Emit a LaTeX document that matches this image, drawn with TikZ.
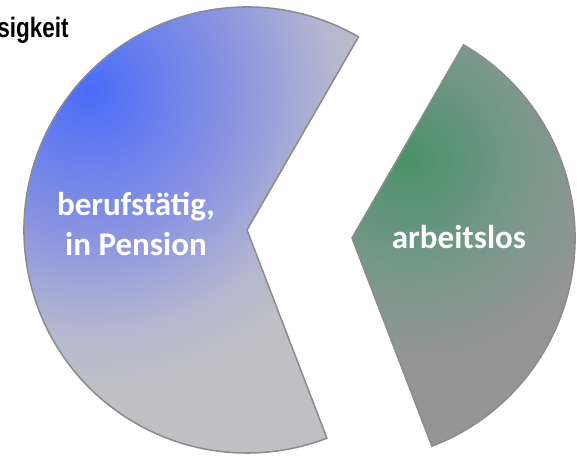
\documentclass[tikz,border=0pt]{standalone}
\usepackage{fontspec}
\newfontfamily\slicefont{Carlito}
\newfontfamily\headfont{Liberation Sans}
\usetikzlibrary{calc}

\definecolor{pieblue}{HTML}{4A6CF8}
\definecolor{piebluemid}{HTML}{8A94E0}
\definecolor{piebluelate}{HTML}{B4B7D0}
\definecolor{piegray}{HTML}{C0C0C4}
\definecolor{piegreen}{HTML}{4A9168}
\definecolor{piegreenmid}{HTML}{76988A}
\definecolor{piegreengray}{HTML}{959595}
\definecolor{sliceline}{HTML}{8C8C8C}

% radii in bp: 1 px of the picture = 0.7087bp
\pgfdeclareradialshading{workshade}{\pgfpointorigin}{color(0bp)=(pieblue); color(104bp)=(piebluemid); color(171bp)=(piebluelate); color(213bp)=(piegray); color(305bp)=(piegray)}
\pgfdeclareradialshading{jobshade}{\pgfpointorigin}{color(0bp)=(piegreen); color(78bp)=(piegreenmid); color(142bp)=(piegreengray); color(213bp)=(piegreengray)}

\tikzset{slice/.style={draw=sliceline, line width=1.1pt, line join=round},
         slice label/.style={text=white, inner sep=0pt, font=\slicefont\bfseries\fontsize{23.5pt}{29pt}\selectfont},
         head label/.style={text=black, inner sep=0pt, font=\headfont\bfseries\fontsize{20pt}{24pt}\selectfont}}

\begin{document}
\begin{tikzpicture}[x=0.025cm, y=0.025cm]
   \useasboundingbox (0,0) rectangle (577,455);
   \coordinate (workc) at (247,225);
   \coordinate (jobc) at (352,217);
   % big slice
   \begin{scope}
      \clip (workc) -- ++(60:223) arc[start angle=60, end angle=291, radius=223] -- cycle;
      \node[inner sep=0pt] (workglow) at (90,365) {\pgfuseshading{workshade}};
   \end{scope}
   \draw[slice] (workc) -- ++(60:223) arc[start angle=60, end angle=291, radius=223] -- cycle;
   % small slice
   \begin{scope}
      \clip (jobc) -- ++(-69:223) arc[start angle=-69, end angle=60, radius=223] -- cycle;
      \node[inner sep=0pt] (jobglow) at (410,295) {\pgfuseshading{jobshade}};
   \end{scope}
   \draw[slice] (jobc) -- ++(-69:223) arc[start angle=-69, end angle=60, radius=223] -- cycle;
   \node[slice label, align=center] (worklabel) at (136,231) {berufstätig,\\in Pension};
   \node[slice label, anchor=base] (joblabel) at (459,207) {arbeitslos};
   \node[head label, anchor=base east] (headline) at (69,417) {\scalebox{0.8}[1]{sigkeit}};
\end{tikzpicture}
\end{document}
